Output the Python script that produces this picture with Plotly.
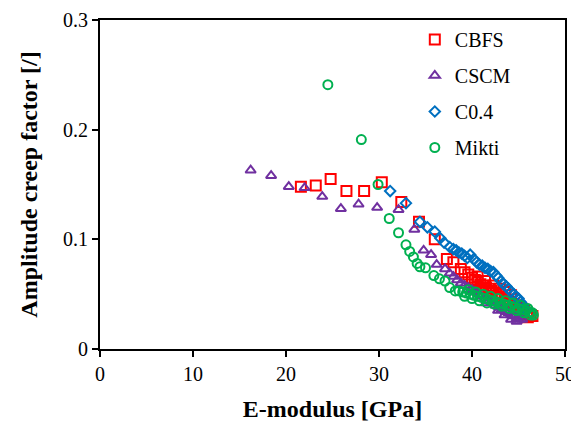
import plotly.graph_objects as go

# CBFS (red squares)
cbfs_x = [21.6, 23.2, 24.8, 26.5, 28.4, 30.3, 32.4, 34.3, 36.0, 37.3, 38.0, 38.8, 39.2,
          39.6, 40.0, 40.3, 40.6, 40.9, 41.2, 41.5, 41.8, 42.1, 42.3, 42.6, 42.9, 43.2,
          43.5, 43.8, 44.1, 44.4, 44.7, 45.0, 45.3, 45.6, 45.9, 46.1, 46.3, 46.5,
          40.6, 41.4, 43.0, 43.6, 44.2, 41.0, 41.8, 42.8, 43.7, 44.6, 45.4, 46.0]
cbfs_y = [0.148, 0.149, 0.155, 0.144, 0.144, 0.152, 0.134, 0.116, 0.100, 0.082, 0.079, 0.073, 0.070,
          0.068, 0.065, 0.063, 0.061, 0.059, 0.058, 0.056, 0.055, 0.053, 0.058, 0.051, 0.050, 0.048,
          0.046, 0.045, 0.043, 0.041, 0.040, 0.038, 0.037, 0.035, 0.033, 0.032, 0.031, 0.030,
          0.066, 0.062, 0.055, 0.052, 0.049, 0.055, 0.051, 0.047, 0.042, 0.037, 0.033, 0.029]

# CSCM (purple triangles)
cscm_x = [16.2, 18.4, 20.3, 22.0, 23.9, 25.9, 27.8, 29.8, 32.1, 33.8, 34.8, 35.6, 36.2, 37.1,
          37.6, 38.0, 38.4, 38.8, 39.2, 39.6, 40.0, 40.3, 40.7, 41.0, 41.4, 41.8, 42.1, 42.5,
          42.9, 43.2, 43.6, 43.9, 44.2, 44.5, 44.8, 45.1, 45.4,
          41.5, 42.8, 43.5, 44.2, 44.8]
cscm_y = [0.163, 0.158, 0.148, 0.147, 0.139, 0.128, 0.132, 0.129, 0.127, 0.109, 0.090, 0.086, 0.077, 0.073,
          0.069, 0.066, 0.063, 0.060, 0.058, 0.056, 0.054, 0.052, 0.050, 0.048, 0.046, 0.044, 0.042, 0.040,
          0.038, 0.036, 0.034, 0.033, 0.031, 0.030, 0.028, 0.027, 0.027,
          0.042, 0.035, 0.031, 0.027, 0.025]

# C0.4 (blue diamonds)
c04_x = [31.2, 32.9, 34.4, 35.2, 36.0, 36.6, 37.0, 37.6, 38.0, 38.3, 38.6, 38.9, 39.2, 39.5,
         39.8, 40.2, 40.5, 40.8, 41.1, 41.4, 41.7, 42.0, 42.3, 42.6, 42.8, 43.1, 43.4, 43.7,
         43.9, 44.2, 44.5, 44.7, 45.0, 45.2, 45.4, 45.6, 45.8]
c04_y = [0.144, 0.133, 0.116, 0.111, 0.107, 0.101, 0.097, 0.093, 0.091, 0.090, 0.088, 0.087, 0.085, 0.083,
         0.086, 0.082, 0.079, 0.077, 0.076, 0.074, 0.073, 0.071, 0.070, 0.067, 0.065, 0.062, 0.059, 0.057,
         0.055, 0.052, 0.050, 0.048, 0.046, 0.043, 0.041, 0.038, 0.036]

# Mikti (green circles)
mikti_x = [24.5, 28.1, 29.9, 31.1, 32.1, 32.9, 33.3, 33.7, 34.1, 34.4, 35.0, 35.9, 36.5, 37.1, 37.6, 38.2,
           38.6, 39.0, 39.4, 39.8, 40.2, 40.6, 41.0, 41.4, 41.8, 42.2, 42.6, 43.0, 43.4, 43.8, 44.2,
           44.6, 45.0, 45.4, 45.8, 46.2, 46.5, 46.6,
           39.2, 40.0, 40.8, 41.6, 42.4, 43.2, 44.0, 44.8, 45.6, 46.3,
           39.6, 40.4, 41.2, 42.0, 42.8, 43.6, 44.4, 45.2, 46.0]
mikti_y = [0.241, 0.191, 0.150, 0.119, 0.106, 0.095, 0.089, 0.084, 0.078, 0.075, 0.074, 0.067, 0.064, 0.062, 0.056, 0.053,
           0.053, 0.052, 0.051, 0.050, 0.049, 0.048, 0.047, 0.046, 0.045, 0.044, 0.043, 0.042, 0.041, 0.040, 0.039,
           0.038, 0.037, 0.036, 0.035, 0.034, 0.033, 0.031,
           0.048, 0.046, 0.044, 0.042, 0.041, 0.039, 0.037, 0.035, 0.033, 0.031,
           0.054, 0.052, 0.050, 0.048, 0.046, 0.044, 0.042, 0.040, 0.037]

series = [
    ("CBFS", cbfs_x, cbfs_y, "square-open", "#FF0000", 10),
    ("CSCM", cscm_x, cscm_y, "triangle-up-open", "#7030A0", 9),
    ("C0.4", c04_x, c04_y, "diamond-open", "#0070C0", 8),
    ("Mikti", mikti_x, mikti_y, "circle-open", "#00B050", 9),
]

fig = go.Figure()
for i, (name, xs, ys, symbol, color, size) in enumerate(series):
    fig.add_trace(go.Scatter(
        x=xs, y=ys, mode="markers", name=name, legendgroup=str(i),
        marker=dict(symbol=symbol, size=size, color=color, line=dict(color=color, width=2)),
    ))

SERIF = "Times New Roman"
axis_font = dict(family=SERIF, size=20, color="black")
title_font = dict(family=SERIF, size=24, color="black")

fig.update_xaxes(
    range=[0, 50], dtick=10, showgrid=False, zeroline=False, automargin=False,
    showline=True, linecolor="black", linewidth=2, mirror=True,
    ticks="outside", ticklen=6, tickwidth=2, tickcolor="black",
    tickfont=axis_font,
    title=dict(text="<b>E-modulus [GPa]</b>", font=title_font, standoff=16),
)
fig.update_yaxes(
    range=[0, 0.3], dtick=0.1, showgrid=False, zeroline=False, automargin=False,
    showline=True, linecolor="black", linewidth=2, mirror=True,
    ticks="outside", ticklen=6, tickwidth=2, tickcolor="black",
    tickfont=axis_font,
    title=dict(text="<b>Amplitude creep factor [/]</b>", font=title_font, standoff=19),
)

# the page body adds an 8px offset, so margins are shifted to compensate
fig.update_layout(
    width=579, height=432,
    margin=dict(l=92, r=22, t=12, b=91),
    plot_bgcolor="white", paper_bgcolor="white",
    legend=dict(
        x=0.677, y=1.0, xanchor="left", yanchor="top",
        font=dict(family=SERIF, size=20, color="black"),
        bgcolor="rgba(0,0,0,0)", tracegroupgap=7, itemwidth=30,
    ),
)

fig.write_html("out.html")
